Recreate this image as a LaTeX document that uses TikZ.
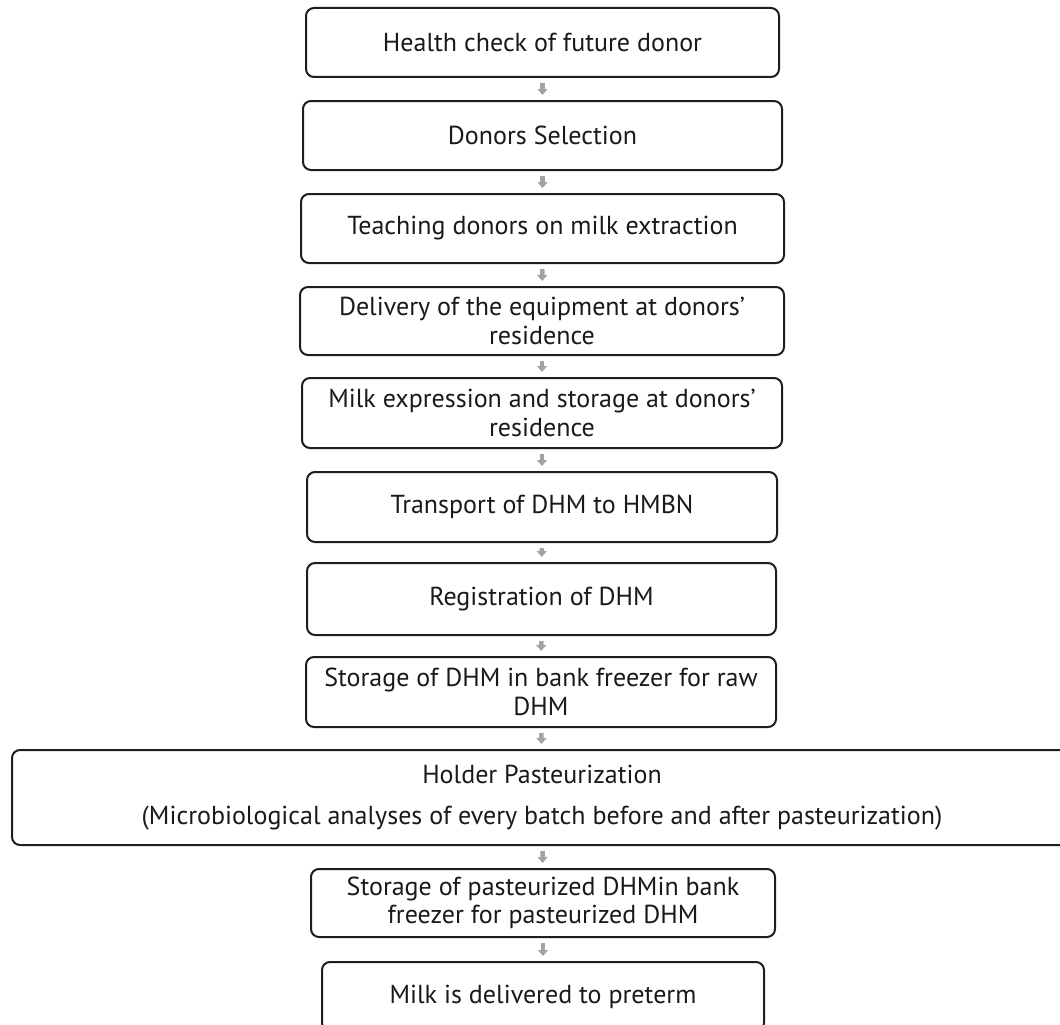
\documentclass[tikz,border=0pt]{standalone}
\usepackage{fontspec}
\setmainfont{PT Sans}
\usetikzlibrary{arrows.meta}
\definecolor{boxline}{HTML}{1E1E1E}
\definecolor{txt}{HTML}{1A1A1A}
\definecolor{arrowgray}{HTML}{A3A3A3}
\tikzset{
  stepbox/.style={draw=boxline, line width=2pt, rounded corners=8pt, fill=white,
    inner sep=0pt, align=center, text=txt, font=\fontsize{26}{28.5}\selectfont},
  flowarrow/.style={draw=arrowgray, line width=4.5pt,
    -{Triangle[width=10pt,length=6pt]}, shorten <=5pt, shorten >=5pt},
}
\begin{document}
\begin{tikzpicture}[x=1pt,y=-1pt]
\useasboundingbox (0,0) rectangle (1060,1025);
\begin{scope}
\clip (0,0) rectangle (1060,1025);
\node[stepbox, minimum width=473pt, minimum height=69pt] (b1) at (542.5,42.5) {Health check of future donor};
\node[stepbox, minimum width=479pt, minimum height=69pt] (b2) at (542.5,135.5) {Donors Selection};
\node[stepbox, minimum width=483pt, minimum height=69pt] (b3) at (542.5,228.5) {Teaching donors on milk extraction};
\node[stepbox, minimum width=484pt, minimum height=68pt] (b4) at (542,321) {Delivery of the equipment at donors’\\residence};
\node[stepbox, minimum width=480pt, minimum height=70pt] (b5) at (542,413) {Milk expression and storage at donors’\\residence};
\node[stepbox, minimum width=470pt, minimum height=70pt] (b6) at (542,507) {Transport of DHM to HMBN};
\node[stepbox, minimum width=469pt, minimum height=72pt] (b7) at (541.5,599) {Registration of DHM};
\node[stepbox, minimum width=470pt, minimum height=70pt] (b8) at (541,692) {Storage of DHM in bank freezer for raw\\DHM};
\node[stepbox, minimum width=1060pt, minimum height=95pt] (b9) at (542,797.5) {Holder Pasteurization\\[12pt](Microbiological analyses of every batch before and after pasteurization)};
\node[stepbox, minimum width=464pt, minimum height=68pt] (b10) at (543,903) {Storage of pasteurized DHMin bank\\freezer for pasteurized DHM};
\node[stepbox, minimum width=442pt, minimum height=69pt] (b11) at (543,996.5) {Milk is delivered to preterm};
\foreach \a/\b in {b1/b2,b2/b3,b3/b4,b4/b5,b5/b6,b6/b7,b7/b8,b8/b9,b9/b10,b10/b11}
  \draw[flowarrow] (\a) -- (\b);
\end{scope}
\end{tikzpicture}
\end{document}
